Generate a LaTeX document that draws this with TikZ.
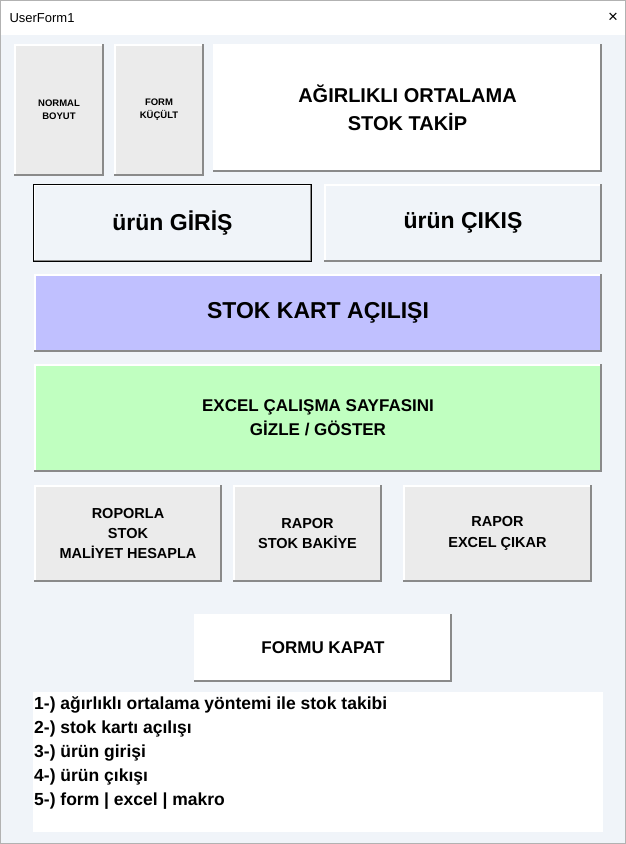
\documentclass[tikz,border=0pt]{standalone}
\usepackage{fontspec}
\setmainfont{Liberation Sans}
\definecolor{formbg}{HTML}{F0F4F9}
\definecolor{btngray}{HTML}{EBEBEB}
\definecolor{btnlav}{HTML}{C0C0FF}
\definecolor{btngreen}{HTML}{C0FFC0}
\definecolor{btnedge}{HTML}{8A8A8A}
\tikzset{
  btn/.style={inner sep=0pt, align=center, text=black},
}
\newcommand{\mkbtn}[8]{% name, x1,y1,x2,y2, fill, size, text
  \fill[#6] (#2,#3) rectangle (#4,#5);
  \draw[white,line width=1.5pt] (#2+0.75,#5) -- (#2+0.75,#3+0.75) -- (#4,#3+0.75);
  \draw[btnedge,line width=2pt] (#2,#5-1) -- (#4-1,#5-1) -- (#4-1,#3);
  \node[btn,font=\bfseries\fontsize{#7}{\dimexpr #7pt*14/10\relax}\selectfont] (#1) at ({(#2+#4)/2},{(#3+#5)/2}) {#8};
}
\begin{document}
\begin{tikzpicture}[x=1pt,y=-1pt]
\useasboundingbox (0,0) rectangle (626,844);
\fill[formbg] (0,0) rectangle (626,844);
\fill[white] (0,0) rectangle (626,35);
\draw[gray!60] (0.5,0.5) rectangle (625.5,843.5);
\node[anchor=west,font=\fontsize{13}{15}\selectfont] (title) at (6,18) {UserForm1};
\node[font=\fontsize{17}{17}\selectfont] (close) at (613,18) {×};
\mkbtn{nb}{14}{44}{104}{176}{btngray}{9.5}{NORMAL\\BOYUT}
\mkbtn{fk}{114}{44}{204}{176}{btngray}{9.5}{FORM\\KÜÇÜLT}
\mkbtn{ag}{213}{44}{602}{172}{white}{20}{AĞIRLIKLI ORTALAMA\\STOK TAKİP}
\mkbtn{gir}{33}{184}{312}{262}{formbg}{23}{ürün GİRİŞ}
\draw[black,line width=1pt] (33.5,184.5) rectangle (311.5,261.5);
\mkbtn{cik}{324}{184}{602}{262}{formbg}{23}{ürün ÇIKIŞ}
\mkbtn{stok}{34}{274}{602}{352}{btnlav}{23}{STOK KART AÇILIŞI}
\mkbtn{exc}{34}{364}{602}{472}{btngreen}{17}{EXCEL ÇALIŞMA SAYFASINI\\GİZLE / GÖSTER}
\mkbtn{rop}{34}{485}{222}{582}{btngray}{14.5}{ROPORLA\\STOK\\MALİYET HESAPLA}
\mkbtn{bak}{233}{485}{382}{582}{btngray}{14.5}{RAPOR\\STOK BAKİYE}
\mkbtn{rex}{403}{485}{592}{582}{btngray}{14.5}{RAPOR\\EXCEL ÇIKAR}
\mkbtn{kap}{194}{614}{452}{682}{white}{17}{FORMU KAPAT}
\fill[white] (33,692) rectangle (603,832);
\node[anchor=north west,align=left,font=\bfseries\fontsize{17.5}{24}\selectfont,inner sep=0pt] (info) at (34,696)
{1-) ağırlıklı ortalama yöntemi ile stok takibi\\
2-) stok kartı açılışı\\
3-) ürün girişi\\
4-) ürün çıkışı\\
5-) form | excel | makro};
\end{tikzpicture}
\end{document}
